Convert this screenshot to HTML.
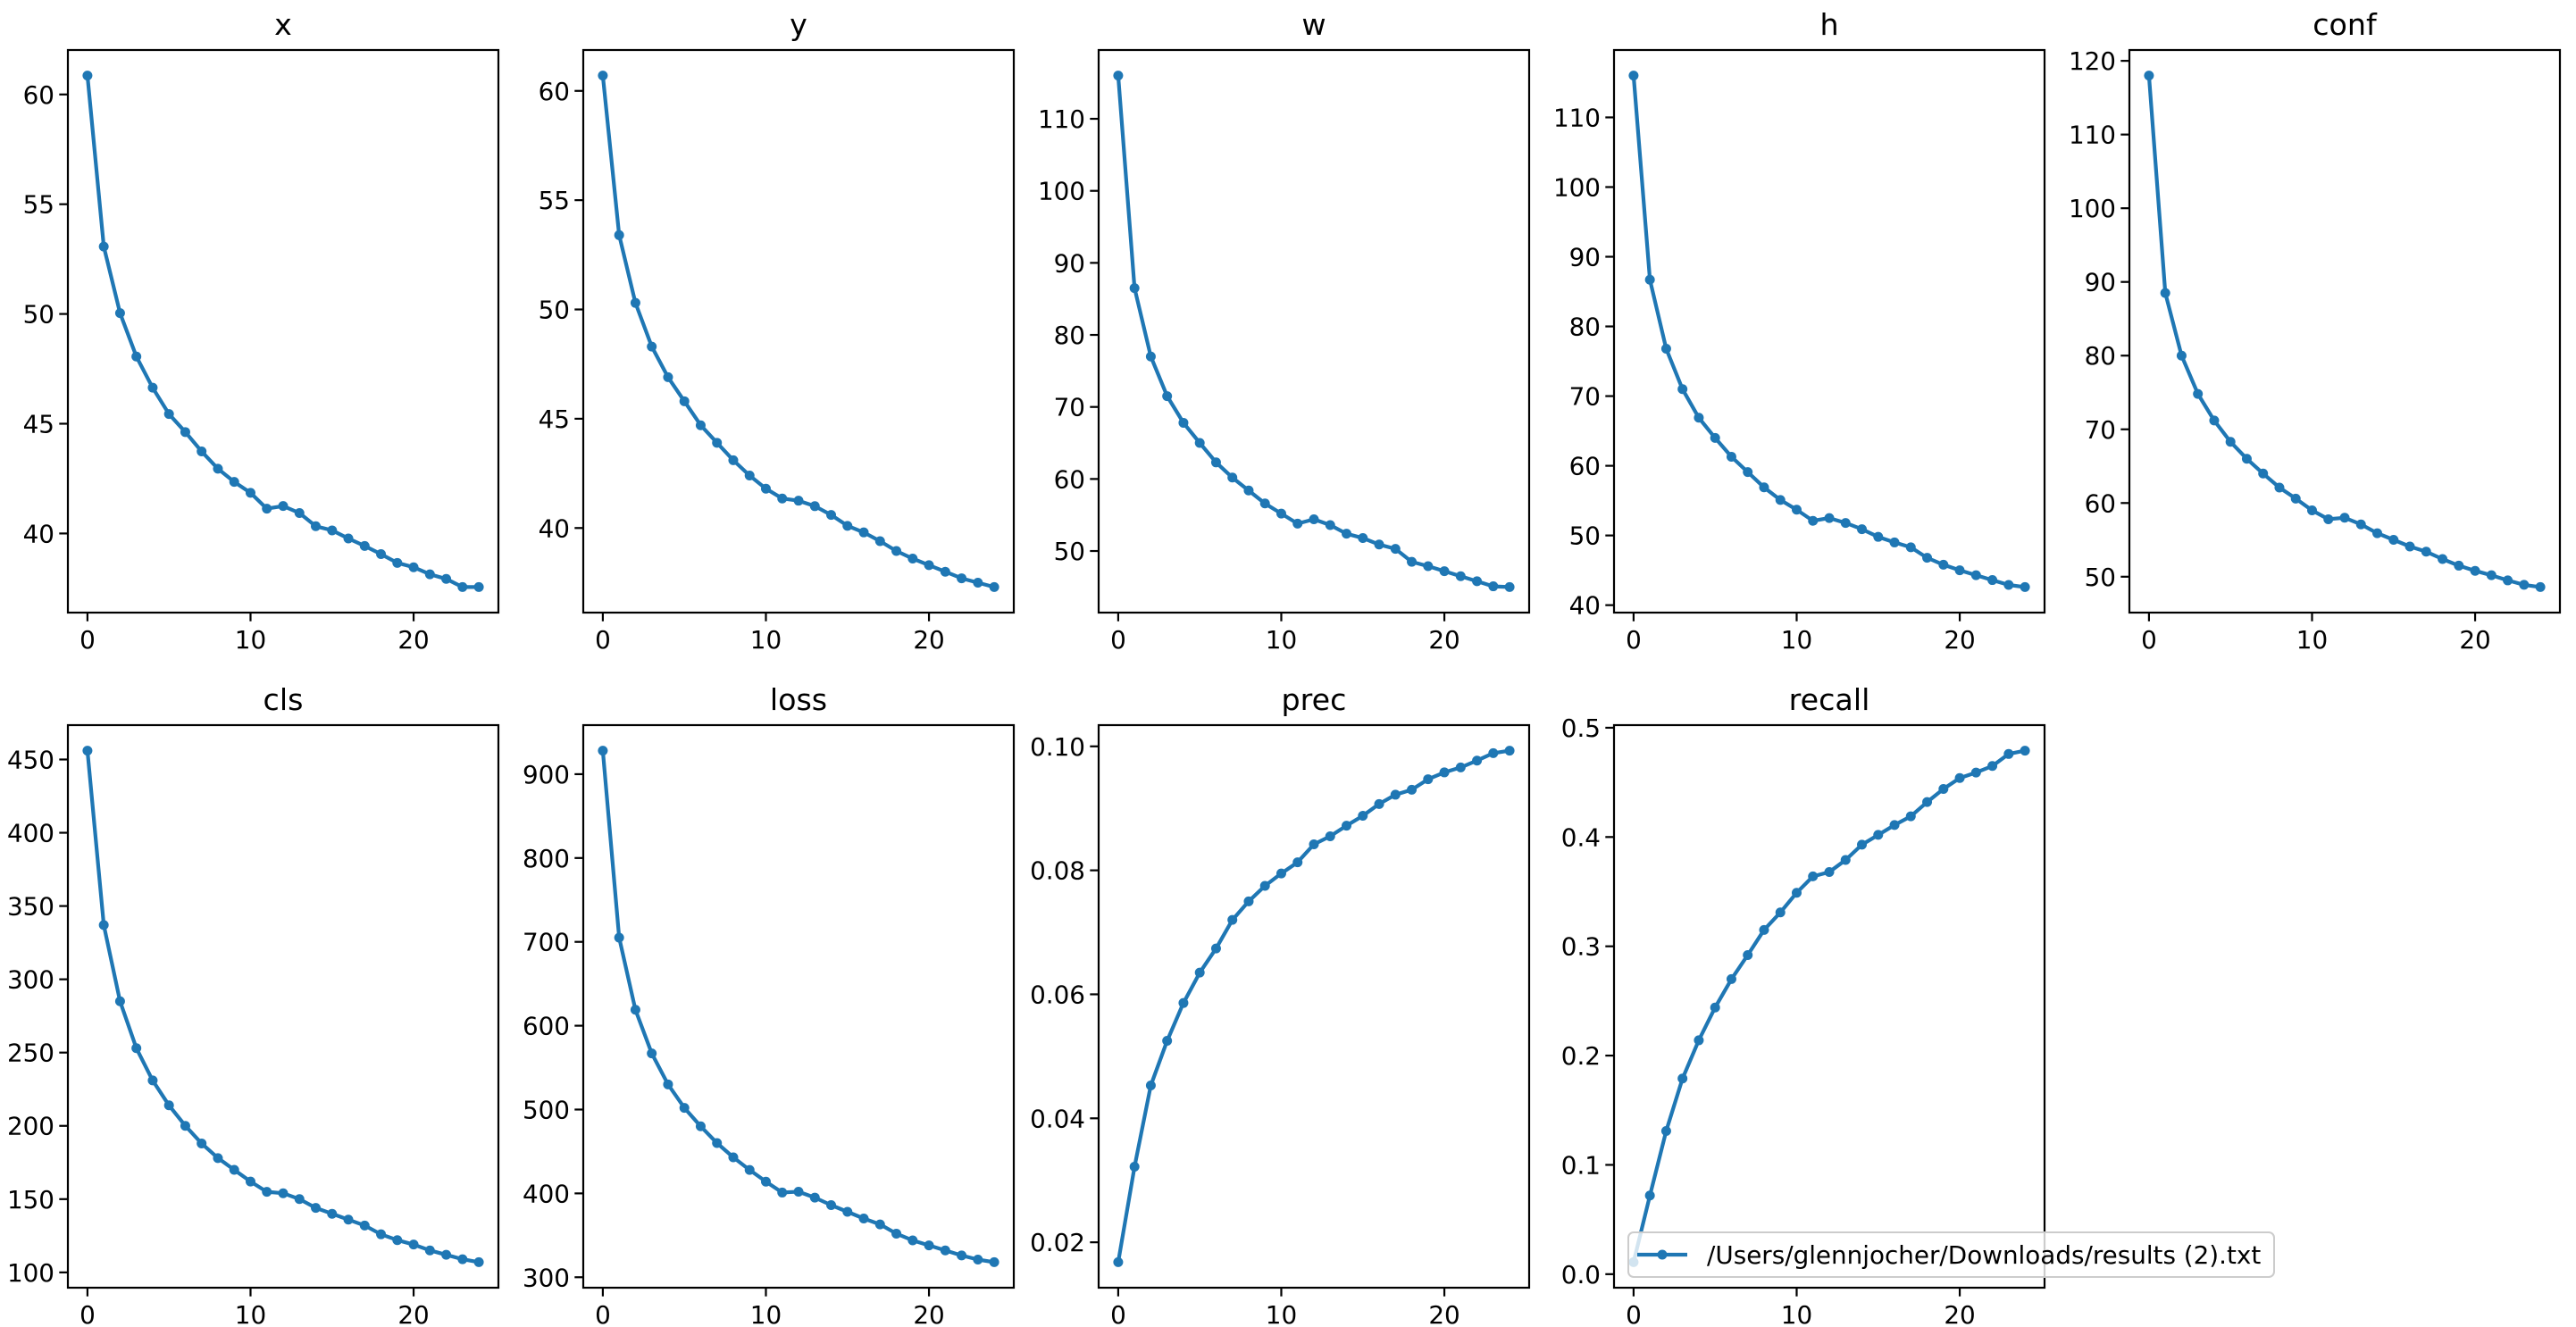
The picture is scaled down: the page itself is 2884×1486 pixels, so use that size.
<!DOCTYPE html>
<html><head><meta charset="utf-8"><style>
html,body{margin:0;padding:0;background:#fff;}
svg{display:block;font-family:"DejaVu Sans","Liberation Sans",sans-serif;}
.yt{text-anchor:end;font-size:27.8px;}
.xt{text-anchor:middle;font-size:27.8px;}
.t{text-anchor:middle;font-size:33.3px;}
</style></head><body>
<svg id="s" width="2884" height="1486" viewBox="0 0 2884 1486" xmlns="http://www.w3.org/2000/svg">
<g class="p"><text class="t">x</text><text class="yt">40</text><text class="yt">45</text><text class="yt">50</text><text class="yt">55</text><text class="yt">60</text><text class="xt">0</text><text class="xt">10</text><text class="xt">20</text></g>
<g class="p"><text class="t">y</text><text class="yt">40</text><text class="yt">45</text><text class="yt">50</text><text class="yt">55</text><text class="yt">60</text><text class="xt">0</text><text class="xt">10</text><text class="xt">20</text></g>
<g class="p"><text class="t">w</text><text class="yt">50</text><text class="yt">60</text><text class="yt">70</text><text class="yt">80</text><text class="yt">90</text><text class="yt">100</text><text class="yt">110</text><text class="xt">0</text><text class="xt">10</text><text class="xt">20</text></g>
<g class="p"><text class="t">h</text><text class="yt">40</text><text class="yt">50</text><text class="yt">60</text><text class="yt">70</text><text class="yt">80</text><text class="yt">90</text><text class="yt">100</text><text class="yt">110</text><text class="xt">0</text><text class="xt">10</text><text class="xt">20</text></g>
<g class="p"><text class="t">conf</text><text class="yt">50</text><text class="yt">60</text><text class="yt">70</text><text class="yt">80</text><text class="yt">90</text><text class="yt">100</text><text class="yt">110</text><text class="yt">120</text><text class="xt">0</text><text class="xt">10</text><text class="xt">20</text></g>
<g class="p"><text class="t">cls</text><text class="yt">100</text><text class="yt">150</text><text class="yt">200</text><text class="yt">250</text><text class="yt">300</text><text class="yt">350</text><text class="yt">400</text><text class="yt">450</text><text class="xt">0</text><text class="xt">10</text><text class="xt">20</text></g>
<g class="p"><text class="t">loss</text><text class="yt">300</text><text class="yt">400</text><text class="yt">500</text><text class="yt">600</text><text class="yt">700</text><text class="yt">800</text><text class="yt">900</text><text class="xt">0</text><text class="xt">10</text><text class="xt">20</text></g>
<g class="p"><text class="t">prec</text><text class="yt">0.02</text><text class="yt">0.04</text><text class="yt">0.06</text><text class="yt">0.08</text><text class="yt">0.10</text><text class="xt">0</text><text class="xt">10</text><text class="xt">20</text></g>
<g class="p"><text class="t">recall</text><text class="yt">0.0</text><text class="yt">0.1</text><text class="yt">0.2</text><text class="yt">0.3</text><text class="yt">0.4</text><text class="yt">0.5</text><text class="xt">0</text><text class="xt">10</text><text class="xt">20</text></g>
<g id="leg">
<rect x="1823" y="1380" width="723" height="50" rx="6" fill="#fff" fill-opacity="0.8" stroke="#cccccc" stroke-width="2"/>
<line x1="1833" y1="1405" x2="1889" y2="1405" stroke="#1f77b4" stroke-width="4.2"/>
<circle cx="1861" cy="1405" r="5.5" fill="#1f77b4"/>
<text x="1911" y="1415" font-size="27.8">/Users/glennjocher/Downloads/results (2).txt</text>
</g>
</svg>
<script>
var D=[
[60.86,53.07,50.04,48.06,46.64,45.44,44.62,43.74,42.95,42.35,41.85,41.13,41.25,40.93,40.33,40.14,39.77,39.43,39.06,38.66,38.46,38.14,37.93,37.56,37.56],
[60.7,53.4,50.3,48.3,46.9,45.8,44.7,43.9,43.1,42.4,41.8,41.35,41.25,41.0,40.6,40.1,39.8,39.4,38.95,38.6,38.3,38.0,37.7,37.5,37.3],
[116,86.5,77,71.5,67.8,65,62.3,60.2,58.4,56.6,55.2,53.8,54.4,53.6,52.4,51.8,50.9,50.3,48.5,47.9,47.2,46.5,45.8,45.1,45.0],
[116,86.7,76.8,71,66.9,64,61.3,59.1,56.9,55.1,53.7,52.1,52.5,51.8,50.9,49.8,49.0,48.3,46.8,45.8,45.0,44.3,43.6,42.9,42.6],
[118,88.5,80,74.8,71.2,68.3,66.0,64.0,62.1,60.6,59.0,57.8,58.0,57.1,55.9,55.0,54.1,53.4,52.4,51.5,50.8,50.2,49.5,48.9,48.6],
[456,337,285,253,231,214,200,188,178,170,162,155,154,150,144,140,136,132,126,122,119,115,112,109,107],
[928,705,619,567,530,502,480,460,443,428,414,401,402,395,386,378,370,363,352,344,338,332,326,321,318],
[0.0168,0.0322,0.0453,0.0525,0.0586,0.0635,0.0674,0.0720,0.0750,0.0775,0.0795,0.0813,0.0842,0.0855,0.0872,0.0888,0.0907,0.0922,0.0930,0.0947,0.0958,0.0966,0.0977,0.0989,0.0993],
[0.011,0.072,0.131,0.179,0.214,0.244,0.27,0.292,0.315,0.331,0.349,0.364,0.368,0.379,0.393,0.402,0.411,0.419,0.432,0.444,0.454,0.459,0.465,0.476,0.479]
];
var NS="http://www.w3.org/2000/svg",svg=document.getElementById('s'),leg=document.getElementById('leg');
function el(n,a,p){var e=document.createElementNS(NS,n);for(var k in a)e.setAttribute(k,a[k]);(p||svg).insertBefore(e,leg);return e;}
var gs=document.querySelectorAll('g.p');
for(var i=0;i<9;i++){
 var c=i%5,r=Math.floor(i/5),L=76+577*c,W=482,T=56+756*r,H=630,B=T+H;
 var d=D[i],mn=Math.min.apply(0,d),mx=Math.max.apply(0,d),rg=mx-mn,y0=mn-0.05*rg,y1=mx+0.05*rg;
 var X=function(x){return L+(x+1.2)/26.4*W;},Y=function(v){return B-(v-y0)/(y1-y0)*H;};
 var g=gs[i];
 var pts=d.map(function(v,j){return X(j).toFixed(1)+','+Y(v).toFixed(1)}).join(' ');
 el('polyline',{points:pts,fill:'none',stroke:'#1f77b4','stroke-width':4.2,'stroke-linejoin':'round'});
 d.forEach(function(v,j){el('circle',{cx:X(j),cy:Y(v),r:5.5,fill:'#1f77b4'});});
 el('rect',{x:L,y:T,width:W,height:H,fill:'none',stroke:'#000','stroke-width':2.2});
 var ts=g.querySelectorAll('text');
 for(var k=0;k<ts.length;k++){var t=ts[k],cl=t.getAttribute('class'),v=parseFloat(t.textContent);
  if(cl=='t'){t.setAttribute('x',L+W/2);t.setAttribute('y',T-17);}
  else if(cl=='yt'){var yy=Y(v);t.setAttribute('x',L-15);t.setAttribute('y',yy+10);
   el('line',{x1:L-9.7,x2:L,y1:yy,y2:yy,stroke:'#000','stroke-width':2.2});}
  else {var xx=X(v);t.setAttribute('x',xx);t.setAttribute('y',B+40);
   el('line',{x1:xx,x2:xx,y1:B,y2:B+9.7,stroke:'#000','stroke-width':2.2});}
 }
}
</script>
</body></html>
